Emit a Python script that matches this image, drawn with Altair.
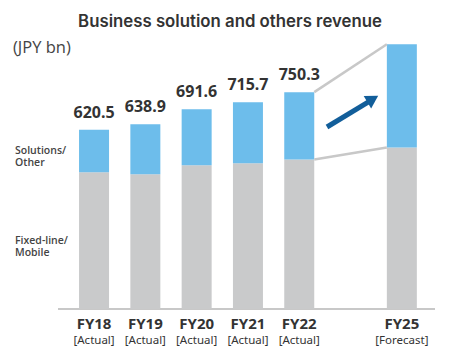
import altair as alt
import pandas as pd

# ---- data ----
categories = ["FY18", "FY19", "FY20", "FY21", "FY22", "FY25"]
periods = ["[Actual]", "[Actual]", "[Actual]", "[Actual]", "[Actual]", "[Forecast]"]
totals = [620.5, 638.9, 691.6, 715.7, 750.3, 916.0]
fixed_mobile = [473, 466, 497, 504, 517, 559]
total_labels = ["620.5", "638.9", "691.6", "715.7", "750.3", ""]
series_names = ["Solutions/\nOther", "Fixed-line/\nMobile"]
title_text = "Business solution and others revenue"
unit_text = "(JPY bn)"

FONT = "Noto Sans"
TFONT = "Inter"
SFONT = "Open Sans"
GRAY = "#C9CACB"
BLUE = "#6DBDEB"
LINE = "#C8C8C8"
ARROW = "#125E9A"
TXT = "#333333"

GAP = " "
x_domain = categories[:5] + [GAP] + categories[5:]

df = pd.DataFrame({
    "cat": categories,
    "period": periods,
    "total": totals,
    "fixed": fixed_mobile,
    "label": total_labels,
})

x_scale = alt.Scale(domain=x_domain, range=[60.4, 419.5], paddingInner=0, paddingOuter=0)
y_scale = alt.Scale(domain=[0, 1000], range=[301, 12])
X = alt.X("cat:N", scale=x_scale, axis=None)

base = alt.Chart(df)

gray_bars = base.mark_bar(size=30, color=GRAY).encode(
    x=X, y=alt.Y("fixed:Q", scale=y_scale, axis=None)
)
blue_bars = base.mark_bar(size=30, color=BLUE).encode(
    x=X, y=alt.Y("fixed:Q", scale=y_scale, axis=None), y2="total:Q"
)

value_labels = base.transform_filter("datum.label != ''").mark_text(
    dy=-12, fontSize=16, fontWeight="bold", font=FONT, color=TXT, baseline="alphabetic"
).encode(x=X, y=alt.Y("total:Q", scale=y_scale, axis=None), text="label:N")

cat_labels = base.mark_text(
    fontSize=15, fontWeight="bold", font=FONT, color=TXT, baseline="alphabetic"
).encode(x=X, y=alt.value(321), text="cat:N")

period_labels = base.mark_text(
    fontSize=11.5, font=FONT, color=TXT, baseline="alphabetic"
).encode(x=X, y=alt.value(336), text="period:N")

# connector lines from FY22 to FY25
conn_df = pd.DataFrame({
    "a": [categories[4], categories[4]],
    "b": [categories[5], categories[5]],
    "y1": [totals[4], fixed_mobile[4]],
    "y2": [totals[5], fixed_mobile[5]],
})
connectors = alt.Chart(conn_df).mark_rule(
    xOffset=15, x2Offset=-15, strokeWidth=2.5, color=LINE
).encode(
    x=alt.X("a:N", scale=x_scale, axis=None), x2="b:N",
    y=alt.Y("y1:Q", scale=y_scale, axis=None), y2="y2:Q"
)

# baseline
axis_df = pd.DataFrame({"v": [0]})
baseline = alt.Chart(axis_df).mark_rule(strokeWidth=2, color=LINE).encode(
    x=alt.value(50), x2=alt.value(427), y=alt.Y("v:Q", scale=y_scale, axis=None)
)

# side series labels, centred on FY18 segments
side_df = pd.DataFrame({
    "name": series_names,
    "mid": [(fixed_mobile[0] + totals[0]) / 2, fixed_mobile[0] / 2],
})
side_labels = alt.Chart(side_df).mark_text(
    align="left", baseline="middle", lineBreak="\n", lineHeight=12.5,
    fontSize=10.5, fontWeight=600, font=SFONT, color="#444444"
).encode(x=alt.value(7), y=alt.Y("mid:Q", scale=y_scale, axis=None), text="name:N")

# title + unit
title = alt.Chart(pd.DataFrame({"t": [title_text]})).mark_text(
    fontSize=16.8, fontWeight=600, font=TFONT, color=TXT, baseline="alphabetic", align="center"
).encode(x=alt.value(222), y=alt.value(18.7), text="t:N")
unit = alt.Chart(pd.DataFrame({"t": [unit_text]})).mark_text(
    fontSize=16.5, font=SFONT, color="#444444", baseline="alphabetic", align="left"
).encode(x=alt.value(5), y=alt.value(44.7), text="t:N")

# growth arrow
arrow_df = pd.DataFrame({"k": [0]})
shaft = alt.Chart(arrow_df).mark_rule(strokeWidth=5, color=ARROW).encode(
    x=alt.value(319), x2=alt.value(363), y=alt.value(119), y2=alt.value(92.3)
)
head = alt.Chart(arrow_df).mark_point(
    shape="triangle-up", size=210, angle=59, filled=True, opacity=1, color=ARROW
).encode(x=alt.value(364.8), y=alt.value(91.1))

chart = alt.layer(
    baseline, gray_bars, blue_bars, connectors, value_labels, cat_labels,
    period_labels, side_labels, title, unit, shaft, head
).properties(
    width=454, height=344,
    autosize=alt.AutoSizeParams(type="none"),
    padding=0,
).configure_view(stroke=None)

chart.save("out.html", embed_options={"renderer": "svg", "actions": False})
